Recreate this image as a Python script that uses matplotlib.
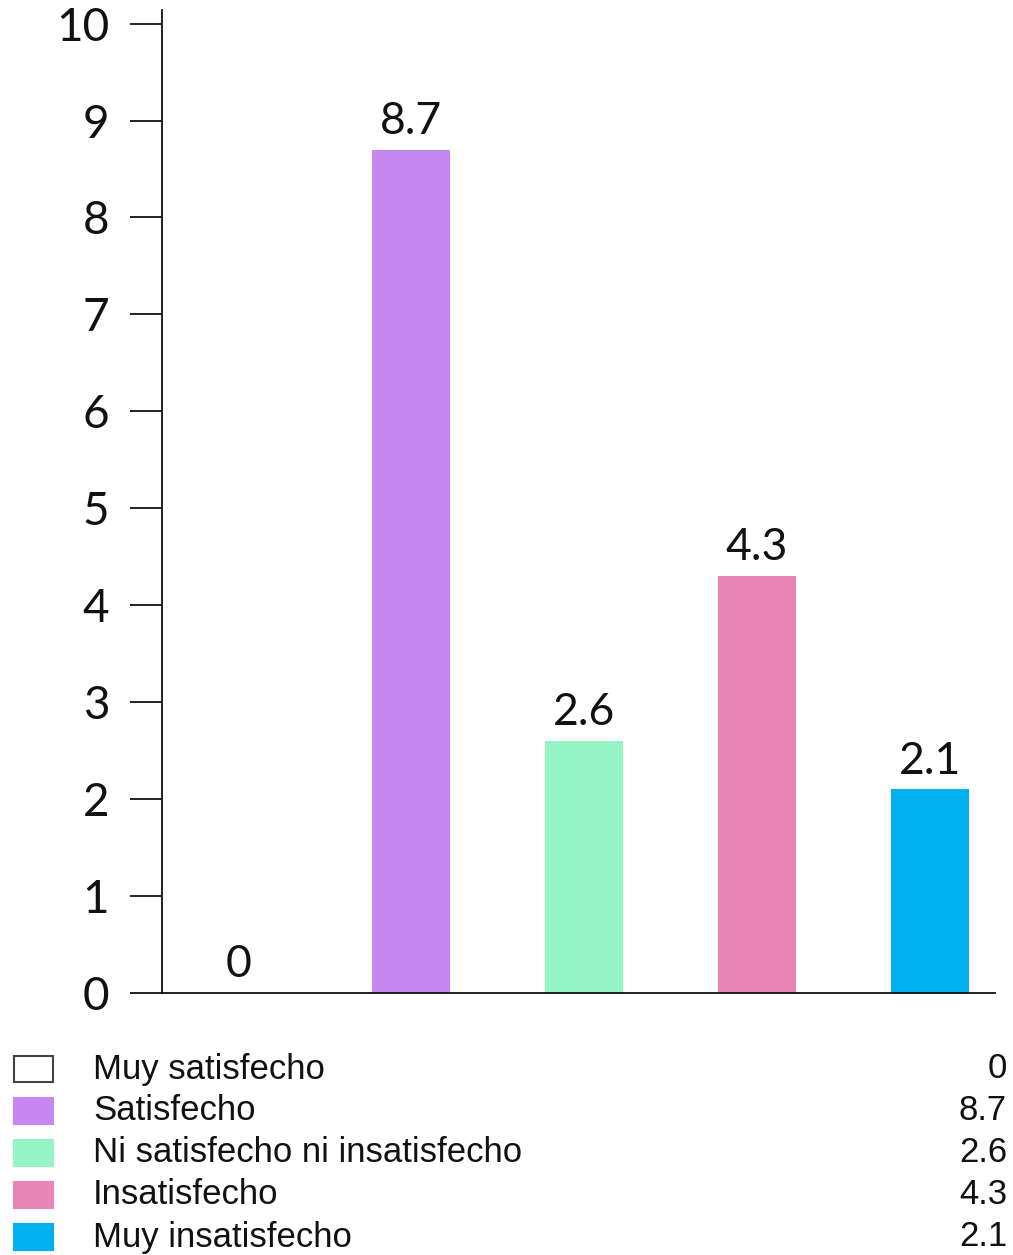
import matplotlib.pyplot as plt
from matplotlib.patches import Rectangle

categories = ['Muy satisfecho', 'Satisfecho', 'Ni satisfecho ni insatisfecho',
              'Insatisfecho', 'Muy insatisfecho']
values = [0, 8.7, 2.6, 4.3, 2.1]
value_labels = ['0', '8.7', '2.6', '4.3', '2.1']
colors = ['#FFFFFF', '#C687F2', '#96F5C7', '#E985B4', '#00B0EF']
yticks = list(range(0, 11))

W, H = 1013, 1255
fig = plt.figure(figsize=(W / 100, H / 100), dpi=100)
ax = fig.add_axes([162 / W, 1 - 993 / H, (995 - 162) / W, (993 - 10) / H])

x = list(range(len(categories)))
ax.bar(x, values, width=0.45, color=colors)
for xi, v, lab in zip(x, values, value_labels):
    ax.text(xi, v + 0.08, lab, ha='center', va='bottom', fontsize=32,
            family='Lato', color='#111111')

ax.set_xlim(-0.44, 4.376)
ax.set_ylim(0, 10.14)
ax.set_yticks(yticks)
ax.set_yticklabels([str(t) for t in yticks], fontsize=33, family='Lato')
ax.tick_params(axis='y', length=23, width=1.3, pad=15, colors='#111111')
ax.set_xticks([])
for s in ['top', 'right']:
    ax.spines[s].set_visible(False)
for s in ['left', 'bottom']:
    ax.spines[s].set_linewidth(1.3)
    ax.spines[s].set_color('#111111')

# legend table below the chart
row_y = [1069, 1111, 1153, 1195, 1237]
for yy, cat, lab, c in zip(row_y, categories, value_labels, colors):
    fig.patches.append(Rectangle((14 / W, 1 - (yy + 13) / H), 39 / W, 26 / H,
                                 transform=fig.transFigure, facecolor=c,
                                 edgecolor='#444444' if c == '#FFFFFF' else c,
                                 linewidth=1.5))
    fig.text(93 / W, 1 - yy / H, cat, ha='left', va='center', fontsize=25,
             family='Liberation Sans', color='#111111')
    fig.text(1007 / W, 1 - yy / H, lab, ha='right', va='center', fontsize=25,
             family='Liberation Sans', color='#111111')

fig.savefig('out.png', dpi=100)
